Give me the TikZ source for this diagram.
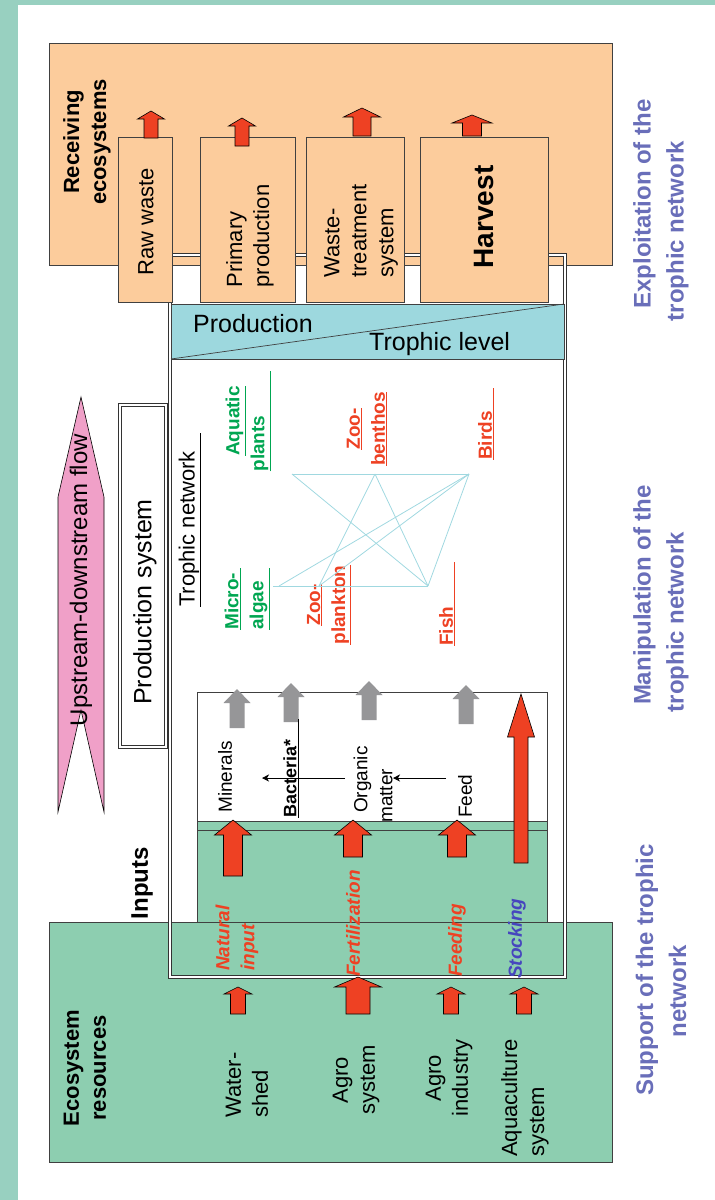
\documentclass[tikz,border=0pt]{standalone}
\usepackage{fontspec}
\setmainfont{Liberation Sans}
\usepackage{tikz}
\usetikzlibrary{arrows.meta,positioning}

\definecolor{bgteal}{RGB}{152,208,192}
\definecolor{peach}{RGB}{252,204,156}
\definecolor{ecogreen}{RGB}{141,206,176}
\definecolor{cyanbox}{RGB}{157,216,222}
\definecolor{flowpink}{RGB}{240,160,200}
\definecolor{arrred}{RGB}{238,65,35}
\definecolor{arrgray}{RGB}{150,150,152}
\definecolor{txtgreen}{RGB}{0,166,81}
\definecolor{txtblue}{RGB}{70,70,190}
\definecolor{txtlilac}{RGB}{105,110,185}
\definecolor{webline}{RGB}{160,216,224}

\tikzstyle{box}=[draw=black!75,line width=0.7pt]
\tikzstyle{dbl}=[draw=black!80,line width=0.7pt,double=white,double distance=2pt]
\tikzstyle{redarr}=[fill=arrred,draw=black,line width=0.6pt,line join=miter]
\tikzstyle{grayarr}=[fill=arrgray]
\tikzstyle{web}=[webline,line width=0.8pt]
\tikzstyle{vlabel}=[rotate=90,inner sep=0pt,font=\fontsize{22}{27}\selectfont]
\tikzstyle{inlabel}=[rotate=90,inner sep=0pt,font=\fontsize{19}{25}\selectfont]
\tikzstyle{troph}=[rotate=90,inner sep=0pt,align=center,font=\fontsize{19}{25}\selectfont\bfseries]
\tikzstyle{inflow}=[rotate=90,inner sep=0pt,anchor=west,font=\fontsize{19}{25}\selectfont\bfseries\itshape,text=arrred]
\tikzstyle{sidelabel}=[rotate=90,inner sep=0pt,align=center,text=txtlilac,font=\fontsize{24}{33}\selectfont\bfseries]

% block arrow pointing up: style, x, tip y, base y, shaft, head width, head length
\newcommand{\blkarr}[7][redarr]{%
  \path[#1] (#2-#5/2,#4) -- (#2-#5/2,#3+#7) -- (#2-#6/2,#3+#7) -- (#2,#3)
    -- (#2+#6/2,#3+#7) -- (#2+#5/2,#3+#7) -- (#2+#5/2,#4) -- cycle;}

\begin{document}
\begin{tikzpicture}[x=1pt,y=-1pt]
\useasboundingbox (0,0) rectangle (715,1200);
\fill[bgteal] (0,0) rectangle (18,1200);
\fill[bgteal] (0,0) rectangle (715,5);

% boxes
\draw[box,fill=peach] (49,43) rectangle (612,265);
\draw[box,fill=white] (197,692) rectangle (547,922);
\draw[box,fill=ecogreen] (197,821) rectangle (547,922);
\draw[box] (197,830) -- (547,830);
\draw[box,fill=ecogreen] (49,922) rectangle (612,1162);
\draw[dbl] (170,255) rectangle (565,977);
\draw[box,fill=peach] (118,137) rectangle (172,302);
\draw[box,fill=peach] (200,137) rectangle (295,302);
\draw[box,fill=peach] (306,137) rectangle (404,302);
\draw[box,fill=peach] (420,137) rectangle (548,302);
\draw[box,fill=cyanbox] (171,304) rectangle (564,359);
\draw[box] (171,359) -- (564,304);

% upstream-downstream flow
\fill[flowpink] (81,397) -- (104,497) -- (104,812) -- (81,710) -- (58,812) -- (58,497) -- cycle;
\node[vlabel,font=\fontsize{24}{28}\selectfont] (flow) at (81,580) {Upstream-downstream flow};
\draw[line width=0.6pt] (81,397) -- (104,497) -- (104,812) -- (81,710) -- (58,812) -- (58,497) -- cycle;
\draw[dbl] (120,405) rectangle (166,747);
\node[vlabel,font=\fontsize{25}{30}\selectfont] (prodsys) at (145,602) {Production system};

% receiving side
\node[vlabel,align=center,font=\fontsize{22}{27}\selectfont\bfseries] (recv) at (87,142) {Receiving\\ecosystems};
\node[vlabel] (rawwaste) at (146,222) {Raw waste};
\node[vlabel,align=left] (primprod) at (250,236) {Primary\\production};
\node[vlabel,align=left] (wastetreat) at (361,231) {Waste-\\treatment\\system};
\node[vlabel,font=\fontsize{28}{32}\selectfont\bfseries] (harvest) at (484,217) {Harvest};
\blkarr{151}{111}{138}{14}{27}{8}
\blkarr{242}{118}{146}{14}{27}{8}
\blkarr{362}{108}{136}{18}{37}{9}
\blkarr{472}{115}{136}{19}{40}{8}

\node[anchor=base west,inner sep=0pt,font=\fontsize{25}{30}\selectfont] (production) at (193,332) {Production};
\node[anchor=base west,inner sep=0pt,font=\fontsize{25}{30}\selectfont] (troplevel) at (369,350) {Trophic level};

% trophic network
\node[vlabel,anchor=west] (trophnet) at (190,607) {\underline{Trophic network\hspace*{18pt}}};
\node[troph,text=txtgreen] (aquatic) at (248,421) {\underline{Aquatic}\\\underline{plants\hspace*{45pt}}};
\node[troph,text=arrred] (benthos) at (367,429) {\underline{Zoo-}\\\underline{benthos}};
\node[troph,text=arrred,anchor=west] (birds) at (486,460) {\underline{Birds\hspace*{23pt}}};
\node[troph,text=txtgreen,align=left,anchor=west] (microalgae) at (247,630) {\underline{\makebox[62pt][l]{Micro-}}\\\underline{\makebox[62pt][l]{algae}}};
\node[troph,text=arrred] (plankton) at (329,605) {\underline{Zoo-}\\\underline{plankton}};
\node[troph,text=arrred,anchor=west] (fish) at (447,646) {\underline{Fish\hspace*{45pt}}};
\coordinate (aqp) at (292,474);
\coordinate (zbe) at (375,474);
\coordinate (brd) at (469,474);
\coordinate (mal0) at (273,586);
\coordinate (mal) at (279,586);
\coordinate (zpl) at (319,586);
\coordinate (fsh) at (428,586);
\draw[web] (aqp) -- (brd);
\draw[web] (mal0) -- (fsh);
\draw[web] (aqp) -- (fsh);
\draw[web] (zbe) -- (zpl);
\draw[web] (zbe) -- (fsh);
\draw[web] (brd) -- (mal);
\draw[web] (brd) -- (zpl);
\draw[web] (brd) -- (fsh);

% inputs box
\blkarr[grayarr]{237}{689}{728}{15}{27}{14}
\blkarr[grayarr]{291}{683}{722}{15}{27}{14}
\blkarr[grayarr]{369}{681}{720}{15}{27}{14}
\blkarr[grayarr]{466}{685}{724}{15}{27}{14}
\blkarr{521}{694}{863}{14}{27}{43}
\node[inlabel,anchor=west] (minerals) at (225,813) {Minerals};
\node[inlabel,anchor=west,font=\fontsize{18}{24}\selectfont\bfseries] (bacteria) at (291,818) {\underline{Bacteria*\hspace*{21pt}}};
\node[inlabel,anchor=west,align=left] (organic) at (373,823) {\hspace*{10pt}Organic\\matter};
\node[inlabel,anchor=west] (feed) at (465,818) {Feed};
\coordinate (om) at (345,778);
\coordinate (mn) at (262,778);
\coordinate (fd) at (446,778);
\coordinate (om2) at (393,778);
\draw[-{Stealth[length=7pt,width=7pt,inset=2pt]},line width=0.9pt] (om) -- (mn);
\draw[-{Stealth[length=7pt,width=7pt,inset=2pt]},line width=0.9pt] (fd) -- (om2);
\blkarr{233}{820}{876}{19}{37}{15}
\blkarr{353}{820}{857}{19}{37}{15}
\blkarr{457}{820}{857}{19}{37}{15}
\node[vlabel,font=\fontsize{24}{28}\selectfont\bfseries] (inputs) at (142,883) {Inputs};

\node[inflow,align=left] (natural) at (237,971) {Natural\\input};
\node[inflow] (fert) at (353,977) {Fertilization};
\node[inflow] (feeding) at (457,977) {Feeding};
\node[inflow,text=txtblue] (stocking) at (517,979) {Stocking};

% ecosystem resources
\blkarr{238}{987}{1014}{15}{28}{7}
\blkarr{358}{977}{1014}{24}{47}{10}
\blkarr{451}{987}{1014}{15}{28}{7}
\blkarr{524}{987}{1014}{15}{28}{7}
\node[vlabel,align=center,font=\fontsize{22}{27}\selectfont\bfseries] (ecores) at (85,1068) {Ecosystem\\resources};
\node[vlabel,align=left,anchor=west] (watershed) at (247,1118) {Water-\\shed};
\node[vlabel,align=center] (agrosys) at (356,1080) {Agro\\system};
\node[vlabel,align=center] (agroind) at (449,1078) {Agro\\industry};
\node[vlabel,align=left,anchor=west] (aquasys) at (525,1157) {Aquaculture\\system};

% side labels
\node[sidelabel] (exploit) at (661,204) {Exploitation of the\\trophic network\hspace*{54pt}};
\node[sidelabel] (manip) at (661,595) {Manipulation of the\\trophic network\hspace*{54pt}};
\node[sidelabel] (support) at (661,970) {Support of the trophic\\network\hspace*{42pt}};
\end{tikzpicture}
\end{document}
